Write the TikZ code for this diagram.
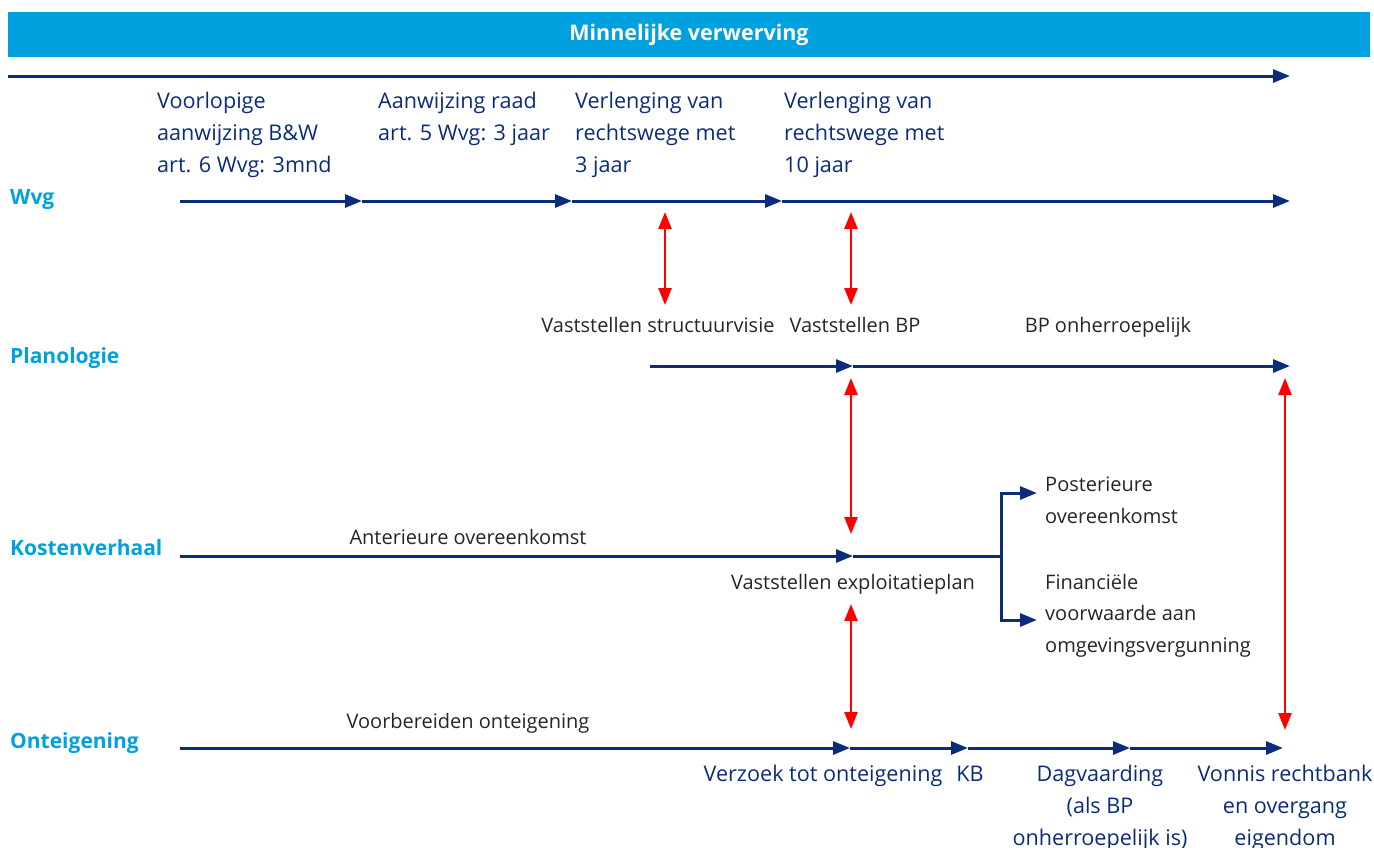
\documentclass[tikz,border=0pt]{standalone}
\usepackage{fontspec}
\setmainfont{Open Sans}
\usetikzlibrary{arrows.meta}
\definecolor{navy}{HTML}{0B2C7A}
\definecolor{cyaan}{HTML}{00A1DE}
\begin{document}
\begin{tikzpicture}[x=1pt, y=-1pt, >={Triangle[length=17pt, width=13pt]},
    stap/.style={draw=navy, line width=3pt, ->},
    lijn/.style={draw=navy, line width=3pt},
    rood/.style={draw=red, line width=2.5pt, <->},
    rij/.style={text=cyaan, font=\bfseries\fontsize{21}{24}\selectfont, anchor=base west, inner sep=0pt},
    fase/.style={text=navy, font=\fontsize{21.6}{32}\selectfont, inner sep=0pt},
    notitie/.style={text=black!85, font=\fontsize{20}{31.5}\selectfont, inner sep=0pt}]
    \useasboundingbox (0,0) rectangle (1374,847);
    \node[fill=cyaan, text=white, font=\bfseries\fontsize{21.5}{24}\selectfont, minimum width=1362pt, minimum height=45pt] (kop) at (689,34.5) {Minnelijke verwerving};
    \def\yw{201} \def\yp{366} \def\yk{556} \def\yo{748} % y van de rijen
    % rijnamen
    \node[rij] (wvg) at (10,204) {Wvg};
    \node[rij] (plan) at (10,363) {Planologie};
    \node[rij] (kost) at (10,555) {Kostenverhaal};
    \node[rij] (onteig) at (10,748) {Onteigening};
    % tijdlijn boven
    \coordinate (t0) at (8,76); \coordinate (t1) at (1290,76);
    \draw[stap] (t0)--(t1);
    % Wvg
    \coordinate (w0) at (180,\yw); \coordinate (w1) at (362,\yw); \coordinate (w2) at (572,\yw); \coordinate (w3) at (782,\yw); \coordinate (w4) at (1290,\yw);
    \foreach \a/\b in {w0/w1,w1/w2,w2/w3,w3/w4} \draw[stap] (\a)--(\b);
    \node[fase, align=left, anchor=base west] (voorl) at (157,172) {Voorlopige\\aanwijzing B\&W\\art. 6 Wvg: 3mnd};
    \node[fase, align=left, anchor=base west] (aanw) at (378,140) {Aanwijzing raad\\art. 5 Wvg: 3 jaar};
    \node[fase, align=left, anchor=base west] (verl3) at (575,172) {Verlenging van\\rechtswege met\\3 jaar};
    \node[fase, align=left, anchor=base west] (verl10) at (784,172) {Verlenging van\\rechtswege met\\10 jaar};
    % Planologie
    \node[notitie, anchor=base] (svisie) at (658,332) {Vaststellen structuurvisie};
    \node[notitie, anchor=base] (vbp) at (855,332) {Vaststellen BP};
    \node[notitie, anchor=base] (bponh) at (1108,332) {BP onherroepelijk};
    \coordinate (p0) at (650,\yp); \coordinate (p1) at (853,\yp); \coordinate (p2) at (1290,\yp);
    \draw[stap] (p0)--(p1); \draw[stap] (p1)--(p2);
    % Kostenverhaal
    \node[notitie, anchor=base] (anter) at (468,544) {Anterieure overeenkomst};
    \node[notitie, anchor=base] (exploit) at (853,589) {Vaststellen exploitatieplan};
    \coordinate (k0) at (180,\yk); \coordinate (k1) at (853,\yk); \coordinate (ks) at (1001,\yk);
    \coordinate (kpost) at (1037,493); \coordinate (kfin) at (1037,620);
    \draw[stap] (k0)--(k1); \draw[lijn] (k1)--(ks);
    \draw[stap] (ks) |- (kpost); \draw[stap] (ks) |- (kfin);
    \node[notitie, align=left, anchor=base west] (poster) at (1045,523) {Posterieure\\overeenkomst};
    \node[notitie, align=left, anchor=base west] (financ) at (1045,652) {Financiële\\voorwaarde aan\\omgevingsvergunning};
    % Onteigening
    \node[notitie, anchor=base] (voorb) at (468,728) {Voorbereiden onteigening};
    \coordinate (o0) at (180,\yo); \coordinate (o1) at (850,\yo); \coordinate (o2) at (968,\yo); \coordinate (o3) at (1130,\yo); \coordinate (o4) at (1283,\yo);
    \foreach \a/\b in {o0/o1,o1/o2,o2/o3,o3/o4} \draw[stap] (\a)--(\b);
    \node[fase, anchor=base] (verzoek) at (823,781) {Verzoek tot onteigening};
    \node[fase, anchor=base] (kb) at (970,781) {KB};
    \node[fase, align=center, anchor=base] (dagv) at (1100,845) {Dagvaarding\\(als BP\\onherroepelijk is)};
    \node[fase, align=center, anchor=base] (vonnis) at (1285,845) {Vonnis rechtbank\\en overgang\\eigendom};
    % rode pijlen
    \coordinate (a1) at (665,212); \coordinate (a2) at (665,305);
    \coordinate (b1) at (851,212); \coordinate (b2) at (851,305);
    \coordinate (c1) at (851,378); \coordinate (c2) at (851,534);
    \coordinate (d1) at (851,604); \coordinate (d2) at (851,729);
    \coordinate (e1) at (1285,378); \coordinate (e2) at (1285,730);
    \foreach \a/\b in {a1/a2,b1/b2,c1/c2,d1/d2,e1/e2} \draw[rood] (\a)--(\b);
\end{tikzpicture}
\end{document}
